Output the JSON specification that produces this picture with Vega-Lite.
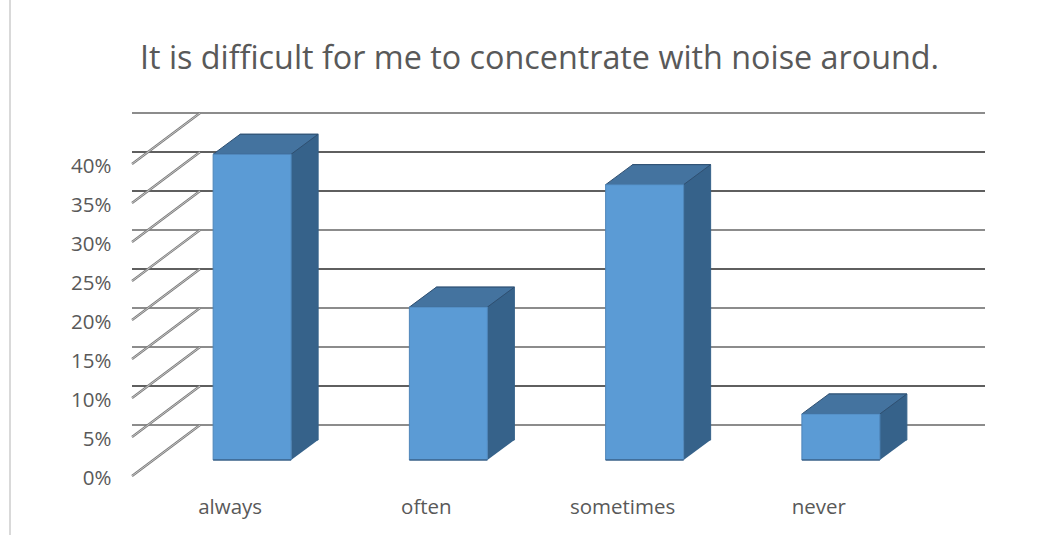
{
  "$schema": "https://vega.github.io/schema/vega-lite/v6.json",
  "width": 785,
  "height": 312,
  "autosize": {"type": "none"},
  "padding": {"left": 132, "top": 164, "right": 126, "bottom": 59},
  "background": "white",
  "view": {"stroke": null},
  "title": {
    "text": "It is difficult for me to concentrate with noise around.",
    "anchor": "middle",
    "frame": "group",
    "dx": 15,
    "offset": -76,
    "font": "Open Sans",
    "fontSize": 32.3,
    "fontWeight": "normal",
    "color": "#595959"
  },
  "datasets": {
    "answers": [
      {"answer": "always", "share": 0.392},
      {"answer": "often", "share": 0.196},
      {"answer": "sometimes", "share": 0.353},
      {"answer": "never", "share": 0.059}
    ],
    "levels": [
      {"level": 0},
      {"level": 0.05},
      {"level": 0.1},
      {"level": 0.15},
      {"level": 0.2},
      {"level": 0.25},
      {"level": 0.3},
      {"level": 0.35},
      {"level": 0.4}
    ]
  },
  "encoding": {
    "y": {
      "type": "quantitative",
      "scale": {"domain": [0, 0.4], "nice": false},
      "axis": {
        "values": [0, 0.05, 0.1, 0.15, 0.2, 0.25, 0.3, 0.35, 0.4],
        "format": ".0%",
        "title": null,
        "domain": false,
        "ticks": false,
        "grid": false,
        "labelPadding": 21,
        "labelFont": "Open Sans",
        "labelFontSize": 20.5,
        "labelColor": "#595959",
        "labelBaseline": "middle",
        "labelOverlap": false,
        "labelFlush": false,
        "labelOffset": 2
      }
    }
  },
  "layer": [
    {
      "description": "Frame edge of the chart area",
      "data": {"values": [{"edge": 1}]},
      "mark": {"type": "rule", "stroke": "#d9d9d9", "strokeWidth": 2},
      "encoding": {
        "x": {"value": -122},
        "y": {"value": -164},
        "y2": {"value": 371}
      }
    },
    {
      "description": "Back wall gridlines",
      "data": {"name": "levels"},
      "mark": {"type": "rule", "xOffset": 68, "yOffset": -51},
      "encoding": {
        "y": {"field": "level"},
        "stroke": {
          "condition": {"test": "datum.level==0.05||datum.level==0.2||datum.level==0.3||datum.level==0.35", "value": "#2a2a2a"},
          "value": "#8c8c8c"
        },
        "strokeWidth": {
          "condition": {"test": "datum.level==0.05||datum.level==0.2||datum.level==0.3||datum.level==0.35", "value": 1.4},
          "value": 2
        }
      }
    },
    {
      "description": "Side wall gridlines, dark edge",
      "data": {"name": "levels"},
      "mark": {"type": "point", "shape": "M0,0L68,-51", "size": 4, "filled": false, "opacity": 1, "stroke": "#777777", "strokeWidth": 2.2},
      "encoding": {
        "x": {"value": 0},
        "y": {"field": "level"}
      }
    },
    {
      "description": "Side wall gridlines, light core",
      "data": {"name": "levels"},
      "mark": {"type": "point", "shape": "M0,0L68,-51", "size": 4, "filled": false, "opacity": 1, "stroke": "#d0d0d0", "strokeWidth": 0.9},
      "encoding": {
        "x": {"value": 0},
        "y": {"field": "level"}
      }
    },
    {
      "description": "Side faces of the columns",
      "data": {"name": "answers"},
      "mark": {"type": "bar", "size": 78, "xOffset": 49, "yOffset": -36, "fill": "#36628a", "stroke": "#36628a", "strokeWidth": 1},
      "encoding": {
        "x": {"field": "answer", "type": "nominal", "sort": null},
        "y": {"field": "share"}
      }
    },
    {
      "description": "Lower corner of each side face",
      "data": {"name": "answers"},
      "mark": {"type": "point", "shape": "M39,0L66,-20L39,-20Z", "size": 4, "filled": true, "opacity": 1, "fill": "#36628a", "xOffset": 22, "yOffset": -16},
      "encoding": {
        "x": {"field": "answer", "type": "nominal", "sort": null},
        "y": {"datum": 0}
      }
    },
    {
      "description": "Top faces of the columns",
      "data": {"name": "answers"},
      "mark": {"type": "point", "shape": "M-39,0L-12,-20L66,-20L39,0Z", "size": 4, "filled": true, "opacity": 1, "fill": "#44739f", "stroke": "#2f4f70", "strokeWidth": 1, "xOffset": 22, "yOffset": -16},
      "encoding": {
        "x": {"field": "answer", "type": "nominal", "sort": null},
        "y": {"field": "share"}
      }
    },
    {
      "description": "Front faces of the columns",
      "data": {"name": "answers"},
      "mark": {"type": "bar", "size": 78, "xOffset": 22, "yOffset": -16, "fill": "#5b9bd5", "stroke": "#4f86ba", "strokeWidth": 1},
      "encoding": {
        "x": {
          "field": "answer",
          "type": "nominal",
          "sort": null,
          "scale": {"paddingInner": 0, "paddingOuter": 0},
          "axis": {
            "title": null,
            "domain": false,
            "ticks": false,
            "labelAngle": 0,
            "labelAlign": "center",
            "labelPadding": 31,
            "labelFont": "Open Sans",
            "labelFontSize": 20.5,
            "labelColor": "#595959"
          }
        },
        "y": {"field": "share"}
      }
    },
    {
      "description": "Dark lower edge of the front faces",
      "data": {"name": "answers"},
      "mark": {"type": "tick", "size": 78, "thickness": 1, "orient": "horizontal", "xOffset": 22, "yOffset": -16, "color": "#2f4f70", "opacity": 1},
      "encoding": {
        "x": {"field": "answer", "type": "nominal", "sort": null},
        "y": {"datum": 0}
      }
    }
  ]
}
